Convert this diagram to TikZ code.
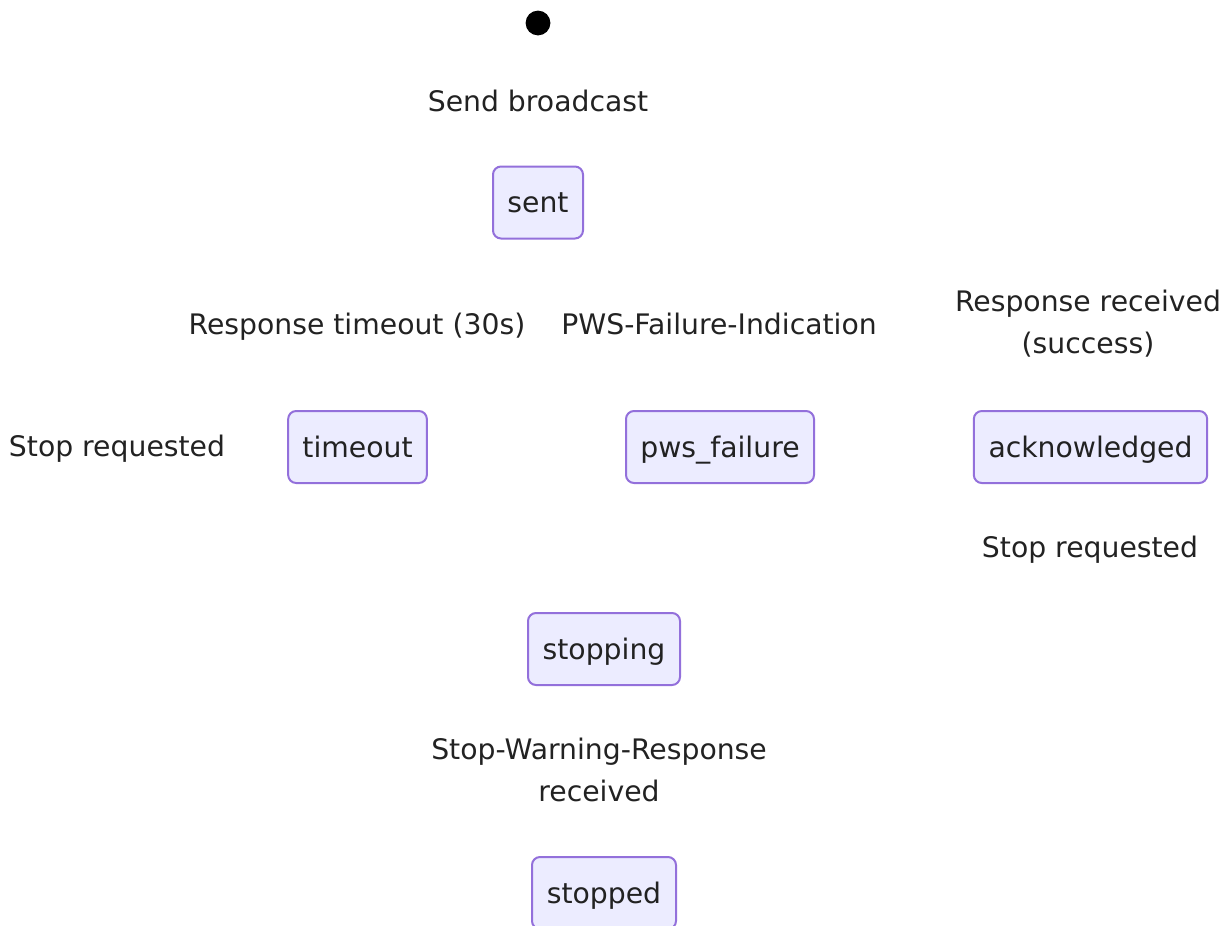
\documentclass[tikz,border=0pt]{standalone}
\usepackage{fontspec}
\setmainfont{DejaVu Sans}
\definecolor{boxfill}{HTML}{ECECFF}
\definecolor{boxline}{HTML}{9370DB}
\definecolor{txt}{HTML}{222222}
\begin{document}
\begin{tikzpicture}[x=0.75pt,y=-0.75pt,
  state/.style={draw=boxline,fill=boxfill,line width=1.5pt,rounded corners=6pt,
    minimum height=54pt,inner sep=0pt,text=txt,font=\fontsize{21.2}{32}\selectfont,
    text height=17.75pt,text depth=2.25pt},
  lbl/.style={text=txt,font=\fontsize{21.2}{32}\selectfont,align=center,inner sep=0pt},
  one/.style={text height=17.75pt,text depth=2.25pt}]
\useasboundingbox (0,0) rectangle (1224,925);
\fill[black] (538,23) circle (9.3pt);
\node[circle,inner sep=0pt,minimum size=18.6pt] (start) at (538,23) {};
\node[lbl,one] (l1) at (538,101) {Send broadcast};
\node[state,minimum width=67.5pt] (sent) at (538,202.5) {sent};
\node[lbl,one] (l2) at (357,324) {Response timeout (30s)};
\node[lbl,one] (l3) at (719,324) {PWS-Failure-Indication};
\node[lbl] (l4) at (1088,323.5) {Response received\\(success)};
\node[lbl,one] (l5) at (117,446) {Stop requested};
\node[state,minimum width=104pt] (timeout) at (357.5,447) {timeout};
\node[state,minimum width=141pt] (pws) at (720,447) {pws\_failure};
\node[state,minimum width=175pt] (ack) at (1090.5,447) {acknowledged};
\node[lbl,one] (l6) at (1090,547) {Stop requested};
\node[state,minimum width=114pt] (stopping) at (604,649) {stopping};
\node[lbl] (l7) at (599,770) {Stop-Warning-Response\\received};
\node[state,minimum width=108pt] (stopped) at (604,893) {stopped};
\end{tikzpicture}
\end{document}
